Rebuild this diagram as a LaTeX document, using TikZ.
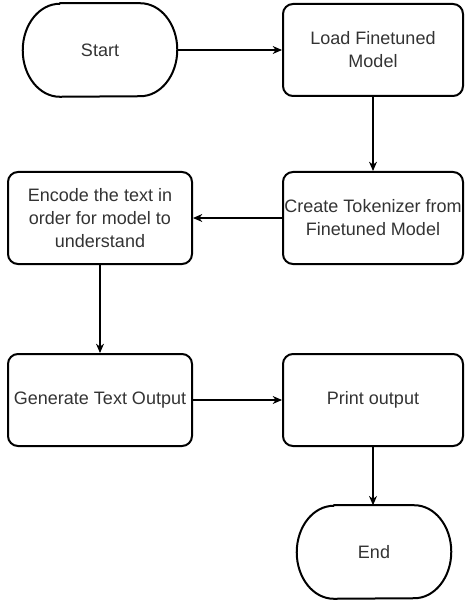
\documentclass[tikz,border=0pt]{standalone}
\usepackage{fontspec}
\setmainfont{Liberation Sans}
\usetikzlibrary{arrows.meta}
\begin{document}
\begin{tikzpicture}[x=0.75pt, y=-0.75pt, font=\fontsize{13.5}{17.25}\selectfont, line join=round, >={Stealth[length=7pt,width=6pt]},
	stepbox/.style={draw, line width=1.5pt, rounded corners=7.5pt, minimum width=135pt, minimum height=69pt, align=center, text=black!80, inner sep=1pt},
	termbox/.style={minimum width=115.5pt, minimum height=69.75pt, text=black!80},
	link/.style={->, line width=0.8pt}]
	\useasboundingbox (0,0) rectangle (465,602);
	\path 
	(100,50) node[termbox] (start) {Start}
	(373,50) node[stepbox] (load) {Load Finetuned\\Model}
	(373,218) node[stepbox] (token) {Create Tokenizer from\\Finetuned Model}
	(100,218) node[stepbox, minimum width=138pt] (encode) {Encode the text in\\order for model to\\understand}
	(100,400) node[stepbox, minimum width=138pt] (generate) {Generate Text Output}
	(373,400) node[stepbox] (print) {Print output}
	(374,552) node[termbox] (end) {End}
	;
	
	\foreach \n in {start,end}
	\draw[line width=1.5pt] ([xshift=27.75pt]\n.north west) -- ([xshift=-27.75pt]\n.north east)
	arc[start angle=90, end angle=-90, x radius=27.75pt, y radius=34.875pt]
	-- ([xshift=27.75pt]\n.south west)
	arc[start angle=270, end angle=90, x radius=27.75pt, y radius=34.875pt] -- cycle;
	
	\draw[link] (start)--(load);
	\draw[link] (load)--(token);
	\draw[link] (token)--(encode);
	\draw[link] (encode)--(generate);
	\draw[link] (generate)--(print);
	\draw[link] (print.south)--(print.south|-end.north);
\end{tikzpicture}
\end{document}
